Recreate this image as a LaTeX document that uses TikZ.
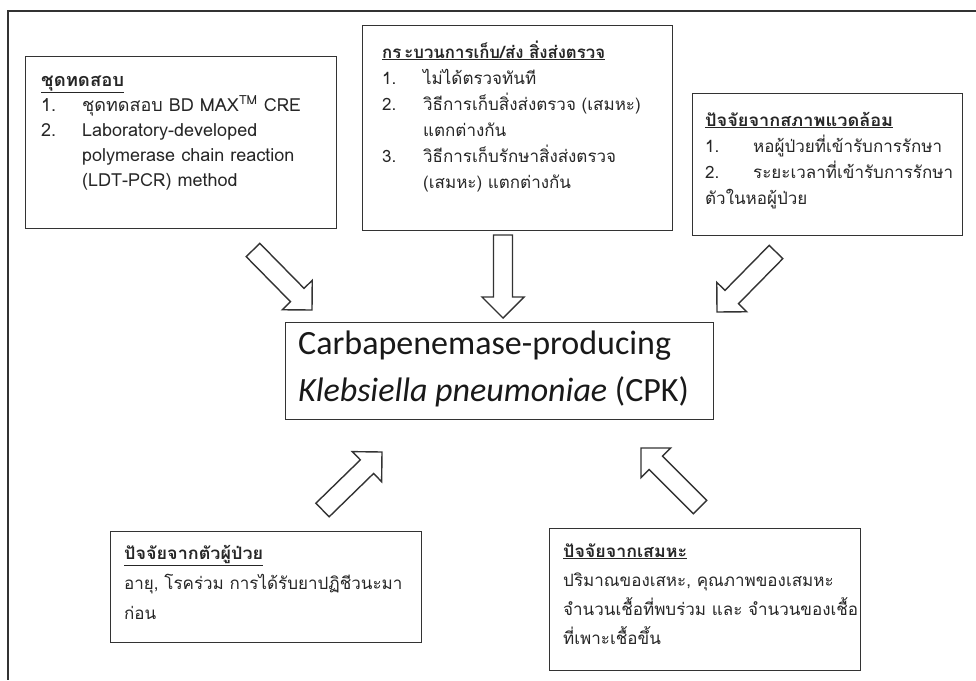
\documentclass[tikz,border=0pt]{standalone}
\usepackage{fontspec}
\usepackage{graphicx}
\setmainfont{Carlito}
\newfontfamily\thaifont[Script=Thai]{Loma}
\usetikzlibrary{calc}
\newcommand{\blockarrow}[2]{%
  \coordinate (#2-h) at ($(#2)!21pt!(#1)$);
  \draw[barrow] ($(#1)!9.5pt!90:(#2)$) -- ($(#2-h)!9.5pt!-90:(#1)$) -- ($(#2-h)!21pt!-90:(#1)$)
     -- (#2) -- ($(#2-h)!21pt!90:(#1)$) -- ($(#2-h)!9.5pt!90:(#1)$) -- ($(#1)!9.5pt!-90:(#2)$) -- cycle;}
\newcommand{\firstline}{\rule{0pt}{22pt}}
\newcommand{\boxhead}[2]{\resizebox{#1}{\height}{\bfseries\underline{#2}}}
\begin{document}
\begin{tikzpicture}[x=1pt,y=-1pt]
\tikzset{
  box/.style={draw=black!80, line width=1.2pt, fill=white, inner sep=0pt, anchor=north west},
  boxtext/.style 2 args={anchor=north west, inner sep=0pt, align=left, text=black!85,
     font=\thaifont\fontsize{#1}{#2}\selectfont},
  maintext/.style={anchor=north west, inner sep=0pt, align=left, text=black!90,
     font=\fontsize{34}{47}\selectfont},
  barrow/.style={draw=black!80, line width=1.4pt, fill=white, line join=miter},
  frame/.style={draw=black!80, line width=1.2pt}
}
\useasboundingbox (0,0) rectangle (976,680);
\fill[white] (0,0) rectangle (976,680);
% outer frame
\coordinate (f1) at (976,11);
\coordinate (f2) at (8,11);
\coordinate (f3) at (8,680);
\draw[frame] (f1) -- (f2) -- (f3);
% boxes
\node[box, minimum width=311pt, minimum height=172pt] (kit) at (25,56) {};
\node[box, minimum width=310pt, minimum height=205pt] (proc) at (362,25) {};
\node[box, minimum width=270pt, minimum height=142pt] (env) at (692,93) {};
\node[box, minimum width=428pt, minimum height=97pt] (cpk) at (285,322) {};
\node[box, minimum width=311pt, minimum height=111pt] (pat) at (110,531) {};
\node[box, minimum width=311pt, minimum height=142pt] (spu) at (549,528) {};
% arrows
\coordinate (a1t) at (253,250);   \coordinate (a1h) at (312,310);
\coordinate (a2t) at (503,235);   \coordinate (a2h) at (503,318);
\coordinate (a3t) at (776,252);   \coordinate (a3h) at (717,312);
\coordinate (a4t) at (322.5,510); \coordinate (a4h) at (382,452);
\coordinate (a5t) at (700,507);   \coordinate (a5h) at (641,448);
\blockarrow{a1t}{a1h}
\blockarrow{a2t}{a2h}
\blockarrow{a3t}{a3h}
\blockarrow{a4t}{a4h}
\blockarrow{a5t}{a5h}
% texts (first baseline = y + 22)
\node[boxtext={18}{25}] (kittext) at (41,64) {\firstline\boxhead{83pt}{ชุดทดสอบ}\\
  \makebox[41pt][l]{1.}ชุดทดสอบ BD MAX\textsuperscript{TM} CRE\\
  \makebox[41pt][l]{2.}Laboratory-developed\\
  \hspace*{41pt}polymerase chain reaction\\
  \hspace*{41pt}(LDT-PCR) method};
\node[boxtext={17}{26}] (proctext) at (382,36) {\firstline\boxhead{223pt}{กร\hspace{3pt}ะบวนการเก็บ/ส่ง สิ่งส่งตรวจ}\\
  \makebox[41pt][l]{1.}ไม่ได้ตรวจทันที\\
  \makebox[41pt][l]{2.}วิธีการเก็บสิ่งส่งตรวจ (เสมหะ)\\
  \hspace*{41pt}แตกต่างกัน\\
  \makebox[41pt][l]{3.}วิธีการเก็บรักษาสิ่งส่งตรวจ\\
  \hspace*{41pt}(เสมหะ) แตกต่างกัน};
\node[boxtext={17}{26}] (envtext) at (705,104) {\firstline\boxhead{188pt}{ปัจจัยจากสภาพแวดล้อม}\\
  \makebox[48pt][l]{1.}หอผู้ป่วยที่เข้ารับการรักษา\\
  \makebox[48pt][l]{2.}ระยะเวลาที่เข้ารับการรักษา\\
  ตัวในหอผู้ป่วย};
\node[maintext] (cpktext) at (298,320) {\rule{0pt}{34pt}Carbapenemase-producing\\
  \textit{Klebsiella pneumoniae} (CPK)};
\node[boxtext={17}{30}] (pattext) at (124,537) {\firstline\boxhead{139pt}{ปัจจัยจากตัวผู้ป่วย}\\
  อายุ, โรคร่วม การได้รับยาปฏิชีวนะมา\\
  ก่อน};
\node[boxtext={17}{29}] (sputext) at (563,535) {\firstline\boxhead{124pt}{ปัจจัยจากเสมหะ}\\
  ปริมาณของเสหะ, คุณภาพของเสมหะ\\
  จำนวนเชื้อที่พบร่วม และ จำนวนของเชื้อ\\
  ที่เพาะเชื้อขึ้น};
\end{tikzpicture}
\end{document}
